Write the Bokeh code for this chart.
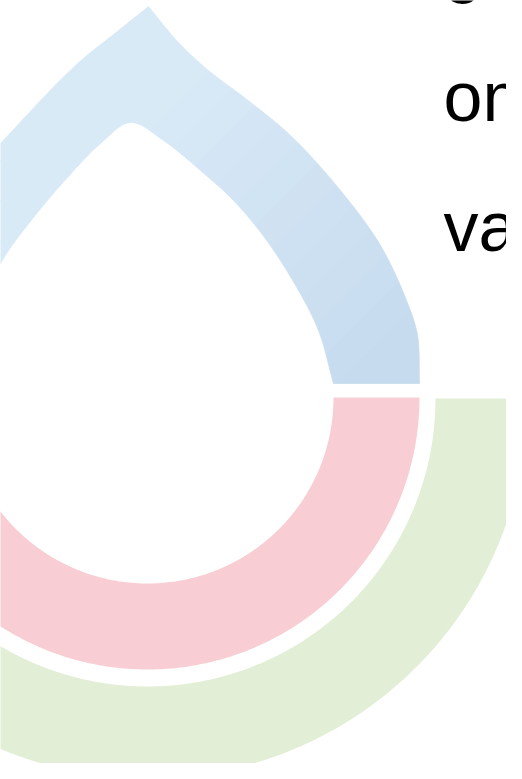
import numpy as np
from bokeh.plotting import figure
from bokeh.models import Range1d, ColumnDataSource
from bokeh.core.properties import value
from bokeh.embed import file_html
from bokeh.resources import INLINE

# ---- shape data (image coordinates, y grows downward) ----
drop_outer_right_x = [419, 417, 406, 380, 340, 290, 245, 208, 178, 148]
drop_outer_right_y = [383, 335, 300, 245, 190, 135, 98, 70, 42, 6]
drop_outer_left_x = [148, 118, 75, 0, -70, -115, -125]
drop_outer_left_y = [6, 30, 65, 143, 220, 320, 383]
drop_inner_x = [-39, -25, 0, 33, 67, 100, 130, 163, 200, 233, 264, 294, 318, 333]
drop_inner_y = [383, 320, 263, 217, 177, 143, 122, 140, 170, 200, 237, 283, 330, 383]
drop_light = (217, 234, 247)   # upper-left tone of the drop
drop_dark = (198, 219, 238)    # lower-right tone of the drop

ring_names = ["red", "green"]
ring_cx = [147, 147]
ring_cy = [397, 398]
ring_inner = [186, 288]
ring_outer = [272, 380]
ring_colors = ["#f8cdd3", "#e2eed5"]

text_lines = ["g", "om", "var"]
text_x = [443, 443, 443]
text_y = [-10, 122, 252]


def spline(xs, ys, n=20):
    """centripetal Catmull-Rom through the given anchors"""
    P = np.column_stack([xs, ys]).astype(float)
    P = np.vstack([2 * P[0] - P[1], P, 2 * P[-1] - P[-2]])
    out = []
    for i in range(1, len(P) - 2):
        p0, p1, p2, p3 = P[i - 1], P[i], P[i + 1], P[i + 2]
        t0 = 0.0
        t1 = t0 + np.linalg.norm(p1 - p0) ** 0.5
        t2 = t1 + np.linalg.norm(p2 - p1) ** 0.5
        t3 = t2 + np.linalg.norm(p3 - p2) ** 0.5
        t = np.linspace(t1, t2, n, endpoint=False)[:, None]
        A1 = (t1 - t) / (t1 - t0) * p0 + (t - t0) / (t1 - t0) * p1
        A2 = (t2 - t) / (t2 - t1) * p1 + (t - t1) / (t2 - t1) * p2
        A3 = (t3 - t) / (t3 - t2) * p2 + (t - t2) / (t3 - t2) * p3
        B1 = (t2 - t) / (t2 - t0) * A1 + (t - t0) / (t2 - t0) * A2
        B2 = (t3 - t) / (t3 - t1) * A2 + (t - t1) / (t3 - t1) * A3
        C = (t2 - t) / (t2 - t1) * B1 + (t - t1) / (t2 - t1) * B2
        out.append(C)
    out.append(P[-2][None, :])
    return np.vstack(out)


def clip_half(P, nx, ny, c):
    """keep part of polygon P with nx*x + ny*y >= c (Sutherland-Hodgman)"""
    out = []
    n = len(P)
    for i in range(n):
        cur, prev = P[i], P[i - 1]
        fc = nx * cur[0] + ny * cur[1] - c
        fp = nx * prev[0] + ny * prev[1] - c
        if fc >= 0:
            if fp < 0:
                t = fp / (fp - fc)
                out.append(prev + t * (cur - prev))
            out.append(cur)
        elif fp >= 0:
            t = fp / (fp - fc)
            out.append(prev + t * (cur - prev))
    return np.array(out) if out else np.zeros((0, 2))


p = figure(width=506, height=763, output_backend="svg", toolbar_location=None,
           x_range=Range1d(0, 506), y_range=Range1d(763, 0),
           x_axis_type=None, y_axis_type=None, min_border=0,
           background_fill_color="white", border_fill_color="white")
p.grid.visible = False
p.outline_line_color = None

# rings (lower half annuli)
rx, ry = [], []
th = np.linspace(0, np.pi, 240)
for cx, cy, ri, ro in zip(ring_cx, ring_cy, ring_inner, ring_outer):
    xo = cx + ro * np.cos(th)
    yo = cy + ro * np.sin(th)
    xi = cx + ri * np.cos(th[::-1])
    yi = cy + ri * np.sin(th[::-1])
    rx.append(np.concatenate([xo, xi]).tolist())
    ry.append(np.concatenate([yo, yi]).tolist())
p.patches(xs=rx, ys=ry, fill_color=ring_colors, line_color=None)

# blue drop, shaded in diagonal bands (light upper-left -> darker lower-right)
a = spline(drop_outer_right_x, drop_outer_right_y)
b = spline(drop_outer_left_x, drop_outer_left_y)[1:]
c = spline(drop_inner_x, drop_inner_y)
poly = np.vstack([a, b, c])
split_x = 139
halves = [clip_half(poly, 1, 0, split_x), clip_half(poly, -1, 0, -split_x)]
bxs, bys, bcol = [], [], []
edges = np.arange(-200, 901, 40)
for half in halves:
    for lo, hi in zip(edges[:-1], edges[1:]):
        q = clip_half(half, 1, 1, lo)
        if len(q) < 3:
            continue
        q = clip_half(q, -1, -1, -hi)
        if len(q) < 3:
            continue
        s = 0.5 * (lo + hi)
        f = min(max((s - 250) / 500.0, 0.0), 1.0)
        rgb = tuple(int(round(drop_light[k] + f * (drop_dark[k] - drop_light[k]))) for k in range(3))
        bxs.append(q[:, 0].tolist())
        bys.append(q[:, 1].tolist())
        bcol.append("#%02x%02x%02x" % rgb)
p.patches(xs=bxs, ys=bys, fill_color=bcol, line_color=bcol, line_width=0.8)

# text
src = ColumnDataSource(dict(x=text_x, y=text_y, t=text_lines))
p.text(x="x", y="y", text="t", source=src, text_font=value("Liberation Sans"),
       text_font_size="70px", text_color="black", text_baseline="alphabetic",
       text_align="left", y_offset=-26)

open("out.html", "w").write(file_html(p, INLINE))
